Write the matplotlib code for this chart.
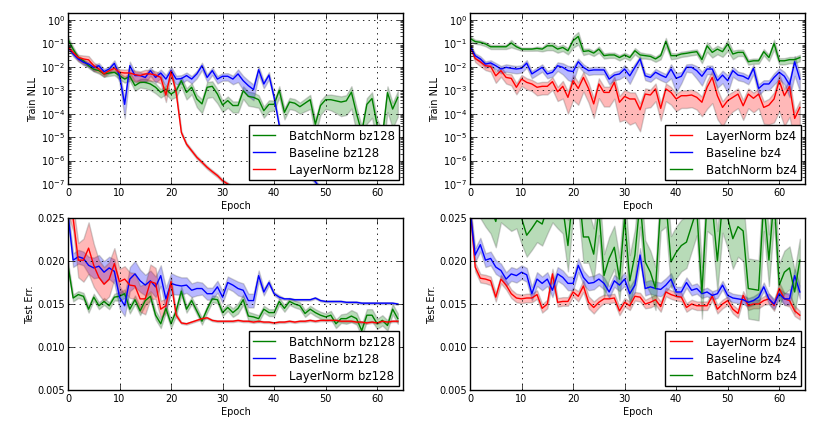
import numpy as np
import matplotlib
matplotlib.use("Agg")
import matplotlib.pyplot as plt
from matplotlib.ticker import MultipleLocator, FormatStrFormatter, LogLocator

plt.style.use("classic")
plt.rcParams.update({
    "figure.facecolor": "white",
    "savefig.facecolor": "white",
    "font.family": ["DejaVu Sans"],
    "font.size": 7,
    "axes.linewidth": 1.0,
    "grid.linestyle": ":",
    "grid.color": "k",
    "grid.linewidth": 0.6,
    "legend.fancybox": False,
    "legend.numpoints": 1,
})

epochs = np.arange(65)

# ---- Train NLL, log10 of the value ----
tl_bn = [-0.82, -1.24, -1.6, -1.74, -1.95, -2.1, -2.16, -2.3, -2.26, -2.23,
         -2.37, -2.52, -2.4, -2.8, -2.66, -2.66, -2.73, -2.87, -3.09, -2.95,
         -3.16, -3.02, -2.59, -3.09, -2.87, -3.37, -3.58, -2.87, -2.83, -3.16,
         -3.63, -3.44, -3.65, -3.65, -3.02, -3.26, -3.3, -3.4, -3.87, -3.6,
         -3.6, -3.0, -3.94, -3.5, -3.55, -3.7, -3.55, -3.4, -4.45, -3.65,
         -3.4, -3.4, -3.45, -3.5, -3.45, -3.08, -4.0, -4.8, -3.6, -3.35,
         -4.5, -5.0, -3.1, -3.8, -3.3]
tl_bl = [-1.15, -1.45, -1.66, -1.8, -1.88, -2.02, -1.95, -2.2, -2.09, -1.85,
         -2.37, -3.6, -1.95, -2.37, -2.37, -2.45, -2.16, -2.45, -2.26, -2.52,
         -2.16, -2.52, -2.5, -2.37, -2.52, -2.3, -1.95, -2.45, -2.16, -2.52,
         -2.4, -2.4, -2.52, -2.3, -2.59, -2.8, -2.97, -2.12, -2.73, -2.35,
         -3.3, -4.5, -5.0, -5.4, -5.8, -6.1, -6.4, -6.65, -6.9, -7.2,
         -7.5, -7.8, -8.0, -8.2, -8.4, -8.5, -8.6, -8.7, -8.8, -8.9,
         -9.0, -9.0, -9.1, -9.1, -9.2]
tl_ln = [-1.15, -1.38, -1.6, -1.66, -1.7, -1.95, -2.09, -2.3, -2.16, -2.06,
         -2.23, -2.26, -2.26, -2.33, -2.37, -2.3, -2.3, -2.35, -2.45, -3.2,
         -2.2, -3.1, -4.8, -5.3, -5.58, -5.86, -6.07, -6.29, -6.47, -6.64,
         -6.86, -7.0, -7.15, -7.3, -7.45, -7.6, -7.75, -7.9, -8.0, -8.1,
         -8.2, -8.3, -8.4, -8.5, -8.6, -8.7, -8.8, -8.9, -9.0, -9.0,
         -9.1, -9.1, -9.2, -9.2, -9.3, -9.3, -9.3, -9.4, -9.4, -9.4,
         -9.5, -9.5, -9.5, -9.5, -9.5]

tr_bn = [-0.78, -0.92, -0.95, -1.02, -1.14, -1.14, -1.14, -1.14, -0.98, -1.14,
         -1.24, -1.24, -1.24, -1.21, -1.24, -1.1, -1.1, -1.24, -1.17, -1.31,
         -0.88, -0.7, -1.34, -1.31, -1.41, -1.24, -1.52, -1.49, -1.49, -1.6,
         -1.49, -1.6, -1.31, -1.49, -1.52, -1.55, -1.66, -1.52, -0.91, -1.52,
         -1.52, -1.45, -1.42, -1.38, -1.35, -1.69, -1.1, -1.38, -1.24, -1.35,
         -1.02, -1.45, -1.38, -1.38, -1.78, -1.74, -1.74, -1.35, -1.6, -1.0,
         -1.74, -1.74, -1.69, -1.69, -1.6]
tr_bl = [-1.1, -1.52, -1.66, -1.88, -1.83, -1.95, -2.09, -2.02, -2.06, -2.09,
         -2.06, -1.84, -2.3, -2.16, -2.02, -2.3, -2.23, -1.95, -2.02, -2.16,
         -2.2, -1.78, -2.02, -2.16, -2.13, -2.13, -2.13, -2.52, -2.35, -2.3,
         -2.09, -2.38, -2.02, -1.66, -2.38, -2.45, -2.23, -2.35, -2.45, -2.09,
         -2.49, -2.4, -2.02, -2.02, -2.16, -2.4, -2.09, -2.09, -2.59, -2.35,
         -2.59, -2.16, -2.35, -2.4, -2.52, -2.06, -2.92, -2.73, -2.73, -2.45,
         -2.23, -2.4, -2.77, -1.78, -2.52]
tr_ln = [-1.1, -1.64, -1.78, -1.95, -1.98, -2.38, -2.16, -2.45, -2.49, -2.87,
         -2.52, -2.66, -2.73, -2.87, -2.83, -2.83, -2.63, -3.06, -2.83, -3.3,
         -2.59, -2.92, -2.45, -2.92, -3.58, -2.73, -3.09, -3.09, -2.66, -3.51,
         -3.26, -3.37, -3.37, -3.83, -3.16, -3.2, -2.94, -3.77, -2.94, -3.09,
         -3.37, -3.23, -3.23, -3.2, -3.3, -3.51, -2.87, -2.45, -3.23, -3.73,
         -3.44, -3.3, -3.16, -3.66, -3.16, -3.34, -3.16, -3.73, -3.63, -3.37,
         -2.59, -3.23, -2.83, -4.2, -3.73]

# relative spread (std / mean) of the Train NLL runs
tl_bn_r = [0.3, 0.25, 0.2, 0.2, 0.2, 0.2, 0.25, 0.25, 0.25, 0.25,
           0.3, 0.3, 0.35, 0.4, 0.4, 0.45, 0.45, 0.45, 0.4, 0.4,
           0.4, 0.45, 0.45, 0.5, 0.5, 0.55, 0.6, 0.65, 0.65, 0.6,
           0.5, 0.5, 0.5, 0.5, 0.55, 0.6, 0.6, 0.55, 0.5, 0.5,
           0.45, 0.5, 0.5, 0.5, 0.5, 0.5, 0.55, 0.6, 0.65, 0.6,
           0.6, 0.65, 0.7, 0.75, 0.75, 0.8, 0.85, 0.85, 0.85, 0.85,
           0.85, 0.85, 0.85, 0.85, 0.85]
tl_bl_r = [0.2, 0.2, 0.2, 0.25, 0.25, 0.3, 0.3, 0.3, 0.3, 0.35,
           0.5, 0.75, 0.5, 0.4, 0.4, 0.4, 0.4, 0.4, 0.4, 0.5,
           0.5, 0.4, 0.4, 0.35, 0.35, 0.35, 0.35, 0.35, 0.35, 0.35,
           0.35, 0.35, 0.4, 0.55, 0.6, 0.65, 0.65, 0.4, 0.35, 0.35,
           0.3, 0.2, 0.2, 0.2, 0.2, 0.2, 0.2, 0.2, 0.2, 0.2,
           0.2, 0.2, 0.2, 0.2, 0.2, 0.2, 0.2, 0.2, 0.2, 0.2,
           0.2, 0.2, 0.2, 0.2, 0.2]
tl_ln_r = [0.2, 0.2, 0.3, 0.4, 0.45, 0.4, 0.3, 0.25, 0.25, 0.3,
           0.35, 0.4, 0.45, 0.5, 0.5, 0.5, 0.5, 0.45, 0.45, 0.5,
           0.4, 0.3, 0.15, 0.15, 0.15, 0.15, 0.15, 0.15, 0.15, 0.15,
           0.15, 0.15, 0.15, 0.15, 0.15, 0.15, 0.15, 0.15, 0.15, 0.15,
           0.15, 0.15, 0.15, 0.15, 0.15, 0.15, 0.15, 0.15, 0.15, 0.15,
           0.15, 0.15, 0.15, 0.15, 0.15, 0.15, 0.15, 0.15, 0.15, 0.15,
           0.15, 0.15, 0.15, 0.15, 0.15]
tr_bn_r = [0.25, 0.2, 0.2, 0.2, 0.2, 0.2, 0.2, 0.2, 0.35, 0.2,
           0.15, 0.15, 0.15, 0.2, 0.2, 0.35, 0.35, 0.3, 0.3, 0.3,
           0.5, 0.55, 0.3, 0.25, 0.25, 0.3, 0.25, 0.25, 0.25, 0.25,
           0.25, 0.25, 0.3, 0.3, 0.25, 0.25, 0.25, 0.3, 0.4, 0.3,
           0.25, 0.25, 0.25, 0.25, 0.25, 0.3, 0.45, 0.4, 0.4, 0.4,
           0.5, 0.4, 0.3, 0.3, 0.25, 0.25, 0.25, 0.3, 0.3, 0.45,
           0.3, 0.3, 0.3, 0.3, 0.3]
tr_bl_r = [0.2, 0.25, 0.3, 0.3, 0.3, 0.3, 0.35, 0.35, 0.35, 0.35,
           0.35, 0.35, 0.35, 0.35, 0.35, 0.35, 0.35, 0.4, 0.5, 0.6,
           0.65, 0.35, 0.35, 0.35, 0.35, 0.35, 0.35, 0.4, 0.4, 0.4,
           0.5, 0.55, 0.45, 0.3, 0.35, 0.35, 0.4, 0.4, 0.4, 0.6,
           0.75, 0.5, 0.35, 0.4, 0.55, 0.6, 0.4, 0.4, 0.5, 0.55,
           0.7, 0.45, 0.4, 0.4, 0.4, 0.45, 0.5, 0.45, 0.45, 0.5,
           0.5, 0.55, 0.7, 0.75, 0.7]
tr_ln_r = [0.2, 0.3, 0.35, 0.35, 0.4, 0.5, 0.45, 0.45, 0.5, 0.5,
           0.5, 0.5, 0.5, 0.55, 0.55, 0.55, 0.55, 0.6, 0.7, 0.8,
           0.85, 0.8, 0.75, 0.75, 0.75, 0.75, 0.75, 0.75, 0.8, 0.85,
           0.9, 0.92, 0.9, 0.88, 0.75, 0.7, 0.7, 0.7, 0.7, 0.7,
           0.7, 0.7, 0.7, 0.7, 0.7, 0.75, 0.88, 0.92, 0.9, 0.85,
           0.8, 0.75, 0.75, 0.75, 0.75, 0.75, 0.75, 0.8, 0.85, 0.9,
           0.95, 0.95, 0.95, 0.9, 0.9]

# ---- Test error ----
bl_bn = [0.0195, 0.0157, 0.0161, 0.0159, 0.0144, 0.0158, 0.0148, 0.0153, 0.0148, 0.0158,
         0.0159, 0.0162, 0.0144, 0.0155, 0.0142, 0.0154, 0.0159, 0.0137, 0.0127, 0.0145,
         0.0127, 0.0142, 0.0165, 0.0144, 0.0154, 0.0142, 0.0130, 0.0144, 0.0156, 0.0155,
         0.0140, 0.0146, 0.0140, 0.0145, 0.0155, 0.0136, 0.0135, 0.0133, 0.0144, 0.0140,
         0.0140, 0.0153, 0.0145, 0.0153, 0.0150, 0.0148, 0.0139, 0.0144, 0.0140, 0.0137,
         0.0135, 0.0137, 0.0127, 0.0133, 0.0133, 0.0136, 0.0133, 0.0119, 0.0137, 0.0137,
         0.0127, 0.0131, 0.0125, 0.0144, 0.0133]
bl_bl = [0.0255, 0.0201, 0.0205, 0.0203, 0.0195, 0.0192, 0.0194, 0.0187, 0.0192, 0.0188,
         0.0158, 0.0148, 0.0179, 0.0185, 0.0177, 0.0172, 0.0177, 0.0170, 0.0183, 0.0156,
         0.0174, 0.0172, 0.0171, 0.0172, 0.0166, 0.0168, 0.0168, 0.0162, 0.0162, 0.0170,
         0.0158, 0.0175, 0.0172, 0.0168, 0.0166, 0.0154, 0.0154, 0.0183, 0.0164, 0.0175,
         0.0162, 0.0158, 0.0156, 0.0156, 0.0155, 0.0155, 0.0155, 0.0155, 0.0157, 0.0154,
         0.0153, 0.0153, 0.0153, 0.0153, 0.0152, 0.0152, 0.0152, 0.0151, 0.0151, 0.0151,
         0.0151, 0.0151, 0.0151, 0.0151, 0.0150]
bl_ln = [0.0265, 0.0250, 0.0201, 0.0201, 0.0215, 0.0195, 0.0181, 0.0173, 0.0179, 0.0197,
         0.0176, 0.0179, 0.0172, 0.0171, 0.0156, 0.0156, 0.0176, 0.0174, 0.0144, 0.0148,
         0.0176, 0.0137, 0.0128, 0.0127, 0.0129, 0.0131, 0.0133, 0.0134, 0.0131, 0.0130,
         0.0130, 0.0130, 0.0130, 0.0131, 0.0130, 0.0130, 0.0129, 0.0130, 0.0129, 0.0129,
         0.0128, 0.0129, 0.0129, 0.0130, 0.0129, 0.0130, 0.0130, 0.0131, 0.0130, 0.0131,
         0.0131, 0.0131, 0.0131, 0.0130, 0.0130, 0.0130, 0.0129, 0.0129, 0.0128, 0.0129,
         0.0128, 0.0130, 0.0129, 0.0130, 0.0130]

br_ln = [0.0265, 0.0193, 0.0180, 0.0179, 0.0177, 0.0158, 0.0179, 0.0172, 0.0162, 0.0157,
         0.0156, 0.0157, 0.0157, 0.0161, 0.0145, 0.0150, 0.0185, 0.0152, 0.0153, 0.0153,
         0.0164, 0.0159, 0.0171, 0.0152, 0.0146, 0.0152, 0.0156, 0.0156, 0.0157, 0.0142,
         0.0152, 0.0148, 0.0159, 0.0158, 0.0150, 0.0152, 0.0155, 0.0147, 0.0164, 0.0161,
         0.0159, 0.0158, 0.0146, 0.0150, 0.0148, 0.0148, 0.0148, 0.0159, 0.0144, 0.0150,
         0.0154, 0.0144, 0.0139, 0.0160, 0.0148, 0.0150, 0.0150, 0.0154, 0.0156, 0.0148,
         0.0168, 0.0156, 0.0154, 0.0142, 0.0137]
br_bl = [0.0260, 0.0207, 0.0219, 0.0201, 0.0203, 0.0193, 0.0189, 0.0179, 0.0185, 0.0183,
         0.0187, 0.0184, 0.0162, 0.0179, 0.0174, 0.0179, 0.0166, 0.0185, 0.0181, 0.0174,
         0.0174, 0.0195, 0.0181, 0.0174, 0.0175, 0.0179, 0.0174, 0.0164, 0.0177, 0.0172,
         0.0179, 0.0162, 0.0172, 0.0207, 0.0168, 0.0170, 0.0168, 0.0167, 0.0172, 0.0179,
         0.0164, 0.0164, 0.0175, 0.0166, 0.0168, 0.0162, 0.0164, 0.0160, 0.0162, 0.0172,
         0.0160, 0.0157, 0.0156, 0.0155, 0.0152, 0.0154, 0.0158, 0.0170, 0.0156, 0.0150,
         0.0162, 0.0156, 0.0156, 0.0183, 0.0164]
br_bn = [0.0300, 0.0290, 0.0280, 0.0270, 0.0262, 0.0246, 0.0275, 0.0270, 0.0265, 0.0268,
         0.0250, 0.0230, 0.0238, 0.0247, 0.0243, 0.0262, 0.0275, 0.0268, 0.0262, 0.0218,
         0.0280, 0.0290, 0.0228, 0.0228, 0.0208, 0.0260, 0.0183, 0.0203, 0.0216, 0.0179,
         0.0250, 0.0177, 0.0207, 0.0270, 0.0199, 0.0187, 0.0168, 0.0265, 0.0270, 0.0199,
         0.0210, 0.0218, 0.0222, 0.0241, 0.0260, 0.0163, 0.0270, 0.0265, 0.0200, 0.0268,
         0.0250, 0.0226, 0.0240, 0.0235, 0.0168, 0.0167, 0.0166, 0.0270, 0.0201, 0.0275,
         0.0172, 0.0187, 0.0192, 0.0164, 0.0201]

# std of the Test error runs
bl_bn_s = [0.0004, 0.0004, 0.0004, 0.0004, 0.0004, 0.0004, 0.0004, 0.0004, 0.0004, 0.0004,
           0.0005, 0.0005, 0.0005, 0.0005, 0.0005, 0.0005, 0.0005, 0.0005, 0.0005, 0.0005,
           0.0005, 0.0005, 0.0005, 0.0004, 0.0004, 0.0004, 0.0004, 0.0004, 0.0004, 0.0004,
           0.0004, 0.0004, 0.0005, 0.0006, 0.0006, 0.0005, 0.0004, 0.0004, 0.0004, 0.0004,
           0.0004, 0.0004, 0.0004, 0.0004, 0.0004, 0.0004, 0.0004, 0.0004, 0.0004, 0.0004,
           0.0004, 0.0005, 0.0005, 0.0005, 0.0006, 0.0007, 0.0007, 0.0007, 0.0007, 0.0007,
           0.0006, 0.0006, 0.0006, 0.0006, 0.0006]
bl_bl_s = [0.0008, 0.0008, 0.0008, 0.0008, 0.0010, 0.0012, 0.0013, 0.0013, 0.0013, 0.0014,
           0.0013, 0.0012, 0.0014, 0.0015, 0.0013, 0.0012, 0.0012, 0.0012, 0.0012, 0.0013,
           0.0012, 0.0011, 0.0010, 0.0009, 0.0008, 0.0008, 0.0007, 0.0007, 0.0007, 0.0007,
           0.0007, 0.0007, 0.0007, 0.0008, 0.0008, 0.0008, 0.0008, 0.0006, 0.0004, 0.0003,
           0.0002, 0.0002, 0.0001, 0.0001, 0.0001, 0.0001, 0.0001, 0.0001, 0.0001, 0.0001,
           0.0001, 0.0001, 0.0001, 0.0001, 0.0001, 0.0001, 0.0001, 0.0001, 0.0001, 0.0001,
           0.0001, 0.0001, 0.0001, 0.0001, 0.0001]
bl_ln_s = [0.0010, 0.0015, 0.0020, 0.0025, 0.0030, 0.0025, 0.0020, 0.0020, 0.0020, 0.0018,
           0.0015, 0.0015, 0.0015, 0.0015, 0.0015, 0.0018, 0.0020, 0.0018, 0.0010, 0.0008,
           0.0006, 0.0003, 0.0001, 0.0001, 0.0001, 0.0001, 0.0001, 0.0001, 0.0001, 0.0001,
           0.0001, 0.0001, 0.0001, 0.0001, 0.0001, 0.0001, 0.0001, 0.0001, 0.0001, 0.0001,
           0.0001, 0.0001, 0.0001, 0.0001, 0.0001, 0.0001, 0.0001, 0.0001, 0.0001, 0.0001,
           0.0001, 0.0001, 0.0001, 0.0001, 0.0001, 0.0001, 0.0001, 0.0001, 0.0001, 0.0001,
           0.0001, 0.0001, 0.0001, 0.0001, 0.0001]
br_ln_s = [0.0006, 0.0005, 0.0005, 0.0005, 0.0005, 0.0005, 0.0005, 0.0005, 0.0005, 0.0005,
           0.0005, 0.0005, 0.0005, 0.0005, 0.0005, 0.0005, 0.0006, 0.0005, 0.0005, 0.0005,
           0.0005, 0.0006, 0.0007, 0.0007, 0.0007, 0.0006, 0.0005, 0.0005, 0.0005, 0.0005,
           0.0005, 0.0005, 0.0005, 0.0005, 0.0005, 0.0006, 0.0006, 0.0006, 0.0005, 0.0005,
           0.0005, 0.0005, 0.0005, 0.0005, 0.0005, 0.0005, 0.0005, 0.0005, 0.0005, 0.0005,
           0.0005, 0.0005, 0.0005, 0.0005, 0.0005, 0.0005, 0.0005, 0.0005, 0.0006, 0.0006,
           0.0007, 0.0007, 0.0007, 0.0006, 0.0005]
br_bl_s = [0.0008, 0.0008, 0.0008, 0.0008, 0.0008, 0.0008, 0.0008, 0.0008, 0.0008, 0.0008,
           0.0008, 0.0008, 0.0008, 0.0008, 0.0008, 0.0008, 0.0008, 0.0008, 0.0008, 0.0008,
           0.0008, 0.0008, 0.0008, 0.0008, 0.0008, 0.0007, 0.0007, 0.0007, 0.0007, 0.0007,
           0.0008, 0.0008, 0.0008, 0.0008, 0.0008, 0.0008, 0.0008, 0.0008, 0.0008, 0.0007,
           0.0006, 0.0006, 0.0006, 0.0006, 0.0006, 0.0005, 0.0005, 0.0005, 0.0005, 0.0005,
           0.0005, 0.0005, 0.0005, 0.0005, 0.0005, 0.0005, 0.0005, 0.0005, 0.0006, 0.0006,
           0.0006, 0.0007, 0.0007, 0.0008, 0.0008]
br_bn_s = [0.0030, 0.0030, 0.0030, 0.0030, 0.0030, 0.0030, 0.0030, 0.0030, 0.0030, 0.0030,
           0.0030, 0.0025, 0.0025, 0.0025, 0.0025, 0.0030, 0.0030, 0.0030, 0.0030, 0.0030,
           0.0030, 0.0030, 0.0030, 0.0030, 0.0030, 0.0030, 0.0025, 0.0025, 0.0025, 0.0025,
           0.0030, 0.0030, 0.0030, 0.0030, 0.0025, 0.0025, 0.0025, 0.0030, 0.0030, 0.0030,
           0.0030, 0.0030, 0.0030, 0.0030, 0.0030, 0.0030, 0.0035, 0.0035, 0.0035, 0.0035,
           0.0035, 0.0035, 0.0035, 0.0035, 0.0035, 0.0035, 0.0035, 0.0035, 0.0030, 0.0030,
           0.0025, 0.0025, 0.0025, 0.0025, 0.0025]

colors = {"BatchNorm": "g", "Baseline": "b", "LayerNorm": "r"}


def draw(ax, curves, log=False):
    for name, vals, spread in curves:
        c = colors[name.split()[0]]
        if log:
            v = 10.0 ** np.array(vals)
            r = np.array(spread)
            lo, hi = v * (1 - r), v * (1 + r)
        else:
            v = np.array(vals)
            s = np.array(spread)
            lo, hi = v - s, v + s
        ax.fill_between(epochs, lo, hi, facecolor=c, edgecolor="0.35",
                        alpha=0.28, linewidth=1.0)
        ax.plot(epochs, v, color=c, lw=1.0, label=name)
    ax.set_xlim(0, 65)
    ax.xaxis.set_major_locator(MultipleLocator(10))
    ax.grid(True)
    ax.set_xlabel("Epoch", fontsize=7, labelpad=2)
    ax.tick_params(labelsize=7, pad=2)
    leg = ax.legend(loc="lower right", fontsize=8.5, handlelength=1.9,
                    handletextpad=1.2, borderpad=0.35, labelspacing=0.35,
                    borderaxespad=0.3)
    leg.get_frame().set_edgecolor("k")
    leg.get_frame().set_linewidth(1.0)


fig = plt.figure(figsize=(8.31, 4.31), dpi=100)
ax_tl = fig.add_axes([0.0818, 0.5708, 0.4031, 0.3967])
ax_tr = fig.add_axes([0.5656, 0.5708, 0.4031, 0.3967])
ax_bl = fig.add_axes([0.0818, 0.0928, 0.4031, 0.3990])
ax_br = fig.add_axes([0.5656, 0.0928, 0.4031, 0.3990])

draw(ax_tl, [("BatchNorm bz128", tl_bn, tl_bn_r),
             ("Baseline bz128", tl_bl, tl_bl_r),
             ("LayerNorm bz128", tl_ln, tl_ln_r)], log=True)
draw(ax_tr, [("LayerNorm bz4", tr_ln, tr_ln_r),
             ("Baseline bz4", tr_bl, tr_bl_r),
             ("BatchNorm bz4", tr_bn, tr_bn_r)], log=True)
draw(ax_bl, [("BatchNorm bz128", bl_bn, bl_bn_s),
             ("Baseline bz128", bl_bl, bl_bl_s),
             ("LayerNorm bz128", bl_ln, bl_ln_s)])
draw(ax_br, [("LayerNorm bz4", br_ln, br_ln_s),
             ("Baseline bz4", br_bl, br_bl_s),
             ("BatchNorm bz4", br_bn, br_bn_s)])

for ax in (ax_tl, ax_tr):
    ax.set_yscale("log")
    ax.set_ylim(1e-7, 2)
    ax.yaxis.set_major_locator(LogLocator(base=10, numticks=10))
    ax.set_ylabel("Train NLL", fontsize=7, labelpad=2)

for ax in (ax_bl, ax_br):
    ax.set_ylim(0.005, 0.025)
    ax.yaxis.set_major_locator(MultipleLocator(0.005))
    ax.yaxis.set_major_formatter(FormatStrFormatter("%.3f"))
    ax.set_ylabel("Test Err.", fontsize=7, labelpad=2)

fig.savefig("out.png", dpi=100)
